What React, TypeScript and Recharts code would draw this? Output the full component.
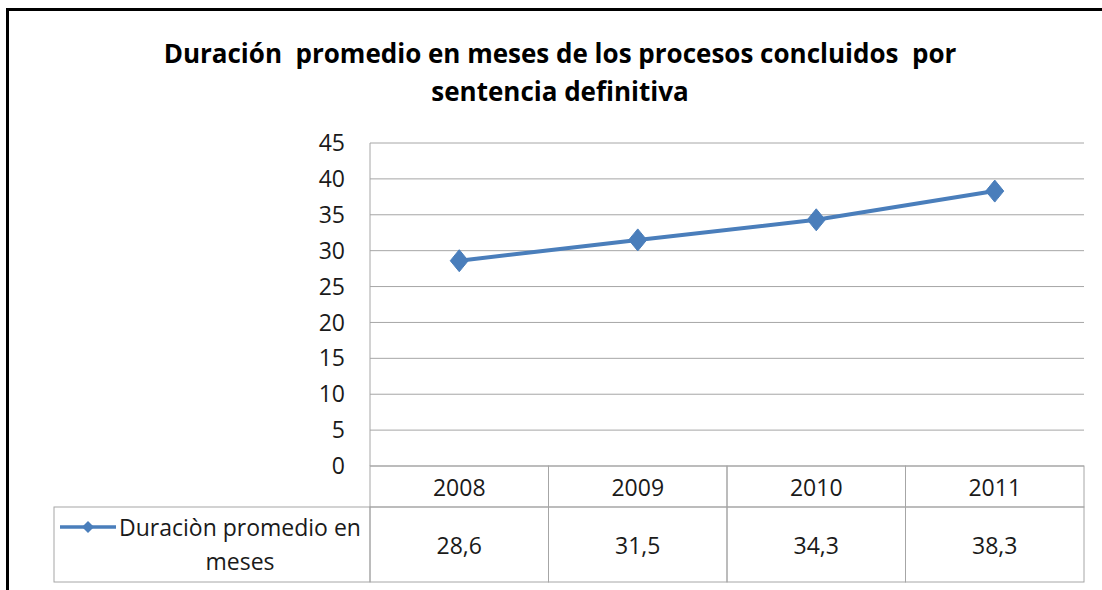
import { LineChart, Line, XAxis, YAxis, CartesianGrid } from "recharts";

const YEARS = ["2008", "2009", "2010", "2011"];
const DURATION = [28.6, 31.5, 34.3, 38.3];
const Y_TICKS = [0, 5, 10, 15, 20, 25, 30, 35, 40, 45];
const SERIES_NAME = "Duraciòn promedio en meses";
const TITLE_LINES = [
  "Duración  promedio en meses de los procesos concluidos  por",
  "sentencia definitiva",
];

const data = YEARS.map((year, i) => ({ year, value: DURATION[i] }));

const BLUE = "#4a7ebb";
const GRID = "#a6a6a6";
const FONT = "'Open Sans', sans-serif";
const LABEL_SIZE = 23;

const fmt = (v: number) => v.toFixed(1).replace(".", ",");

function Diamond(props: any) {
  const { cx, cy } = props;
  if (cx == null || cy == null) return null;
  return (
    <polygon
      points={`${cx},${cy - 11} ${cx + 9},${cy} ${cx},${cy + 11} ${cx - 9},${cy}`}
      fill={BLUE}
      stroke={BLUE}
    />
  );
}

// x-axis ticks double as the data table under the plot
function TableTick(props: any) {
  const { x, y, payload, index } = props;
  const cellW = props.width ? props.width / YEARS.length : 178.5;
  const left = x - cellW / 2;
  const headH = 41;
  const rowH = 75;
  return (
    <g fontFamily={FONT} fontSize={LABEL_SIZE} fill="#1a1a1a">
      <rect x={left} y={y} width={cellW} height={headH} fill="none" stroke={GRID} />
      <rect x={left} y={y + headH} width={cellW} height={rowH} fill="none" stroke={GRID} />
      <text x={x} y={y + headH / 2} textAnchor="middle" dominantBaseline="central">
        {payload.value}
      </text>
      <text x={x} y={y + headH + rowH / 2} textAnchor="middle" dominantBaseline="central">
        {fmt(DURATION[index])}
      </text>
      {index === 0 && (
        <g>
          <rect x={54} y={y + headH} width={left - 54} height={rowH} fill="none" stroke={GRID} />
          <line x1={60} x2={116} y1={y + 61} y2={y + 61} stroke={BLUE} strokeWidth={3.5} />
          <polygon
            points={`88,${y + 55} 94,${y + 61} 88,${y + 67} 82,${y + 61}`}
            fill={BLUE}
          />
          <text x={240} y={y + 61} textAnchor="middle" dominantBaseline="central">
            {SERIES_NAME.split(" ").slice(0, 3).join(" ")}
          </text>
          <text x={240} y={y + 95} textAnchor="middle" dominantBaseline="central">
            {SERIES_NAME.split(" ").slice(3).join(" ")}
          </text>
        </g>
      )}
    </g>
  );
}

export default function App() {
  return (
    <div style={{ position: "absolute", left: 0, top: 0, width: 1102, height: 590, background: "#fff" }}>
      <div
        style={{
          position: "absolute",
          left: 6,
          top: 8,
          right: 0,
          bottom: 0,
          borderTop: "3px solid #000",
          borderLeft: "3px solid #000",
        }}
      />
      <div
        style={{
          position: "absolute",
          left: 0,
          top: 34,
          width: 1120,
          textAlign: "center",
          fontFamily: FONT,
          fontWeight: 700,
          fontSize: 26,
          lineHeight: "38px",
          color: "#000",
          whiteSpace: "pre",
        }}
      >
        {TITLE_LINES.map((t) => (
          <div key={t}>{t}</div>
        ))}
      </div>
      <div style={{ position: "absolute", left: 0, top: 0 }}>
        <LineChart
          width={1102}
          height={590}
          data={data}
          margin={{ top: 143, right: 18, left: 310, bottom: 8 }}
        >
          <CartesianGrid vertical={false} stroke={GRID} />
          <XAxis
            dataKey="year"
            scale="band"
            height={116}
            axisLine={false}
            tickLine={false}
            tickSize={0}
            tickMargin={0}
            interval={0}
            tick={<TableTick />}
          />
          <YAxis
            width={60}
            domain={[0, 45]}
            ticks={Y_TICKS}
            interval={0}
            axisLine={{ stroke: GRID }}
            tickLine={false}
            tickSize={0}
            tickMargin={25}
            tick={{ fontFamily: FONT, fontSize: LABEL_SIZE, fill: "#1a1a1a" }}
          />
          <Line
            dataKey="value"
            stroke={BLUE}
            strokeWidth={4}
            dot={<Diamond />}
            activeDot={false}
            isAnimationActive={false}
          />
        </LineChart>
      </div>
    </div>
  );
}
